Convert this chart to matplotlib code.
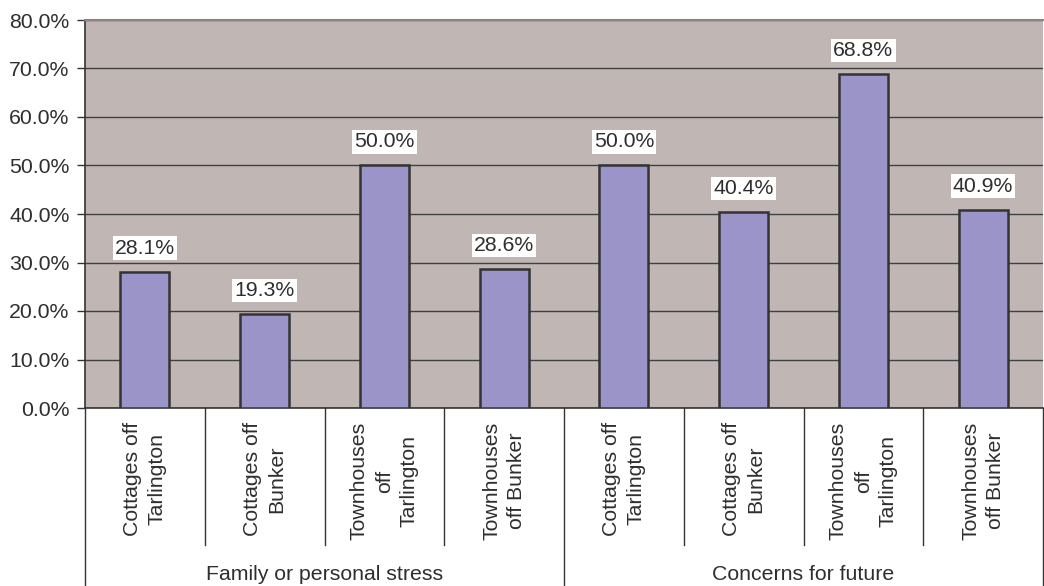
import matplotlib.pyplot as plt
import matplotlib.transforms as mtransforms
from matplotlib.ticker import FuncFormatter

plt.rcParams['font.family'] = ['Liberation Sans', 'DejaVu Sans']

groups = ["Family or personal stress", "Concerns for future"]
categories = ["Cottages off\nTarlington", "Cottages off\nBunker",
              "Townhouses\noff\nTarlington", "Townhouses\noff Bunker"]
family_stress = [28.1, 19.3, 50.0, 28.6]
future_concerns = [50.0, 40.4, 68.8, 40.9]

values = family_stress + future_concerns
labels = categories + categories
x = list(range(len(values)))

fs = 15.3
tc = '#2e2e2e'

fig = plt.figure(figsize=(10.44, 5.86), dpi=100)
ax = fig.add_axes([85 / 1044, 1 - 408 / 586, 958 / 1044, 388 / 586])
ax.set_facecolor('#c0b7b4')

ax.bar(x, values, width=0.41, color='#9a94c8', edgecolor='#333333', linewidth=1.8, zorder=3)

for xi, v in zip(x, values):
    ax.annotate(f"{v:.1f}%", (xi, v), xytext=(0, 17), textcoords='offset points',
                ha='center', va='center', fontsize=fs, color=tc, zorder=4,
                bbox=dict(boxstyle='square,pad=0.1', fc='white', ec='none'))

ax.set_xlim(-0.5, len(values) - 0.5)
ax.set_ylim(0, 80)
ax.set_yticks(range(0, 81, 10))
ax.yaxis.set_major_formatter(FuncFormatter(lambda v, p: f"{v:.1f}%"))
ax.tick_params(axis='y', labelsize=fs, labelcolor=tc, length=6, width=1, color='#333333', pad=5)
ax.set_xticks([])
ax.yaxis.grid(True, color='#404040', linewidth=1)
ax.set_axisbelow(True)

ax.spines['right'].set_visible(False)
ax.spines['top'].set_color('#8f8282')
ax.spines['top'].set_linewidth(1.5)
ax.spines['left'].set_color('#333333')
ax.spines['bottom'].set_color('#333333')
ax.spines['left'].set_linewidth(1.2)
ax.spines['bottom'].set_linewidth(1.2)

trans = mtransforms.blended_transform_factory(ax.transData, ax.transAxes)
# separators below the axis
for b in range(len(values) + 1):
    xb = b - 0.5
    if b % 4 == 0:
        bottom = -0.47
    else:
        bottom = -137 / 388
    ax.plot([xb, xb], [0, bottom], transform=trans, color='#333333', lw=1, clip_on=False)

for xi, lab in zip(x, labels):
    ax.text(xi, -14 / 388, lab, transform=trans, rotation=90, ha='center', va='top',
            multialignment='center', fontsize=fs, color=tc, linespacing=1.4)

for gi, g in enumerate(groups):
    ax.text(gi * 4 + 1.5, -167 / 388, g, transform=trans, ha='center', va='center',
            fontsize=fs, color=tc)

fig.savefig('out.png', dpi=100)
